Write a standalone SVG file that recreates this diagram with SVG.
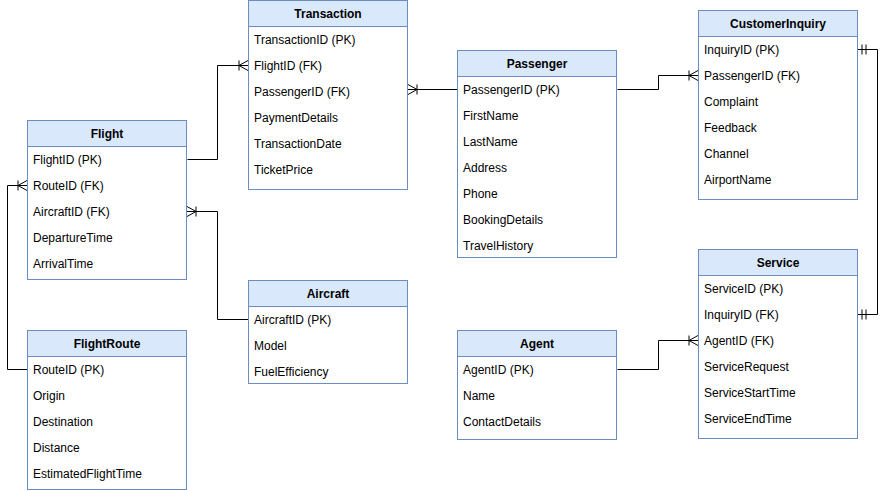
<svg xmlns="http://www.w3.org/2000/svg" width="887" height="491" viewBox="0 0 887 491">
<style>
.body{fill:#ffffff;stroke:#6c8ebf;stroke-width:1}
.head{fill:#dae8fc;stroke:#6c8ebf;stroke-width:1}
.t{font-family:"Liberation Sans",Arial,sans-serif;font-size:12px;fill:#000}
.h{font-family:"Liberation Sans",Arial,sans-serif;font-size:12px;font-weight:bold;fill:#000;text-anchor:middle}
.c{fill:none;stroke:#000;stroke-width:1}
</style>
<defs>
<marker id="many" markerUnits="userSpaceOnUse" viewBox="-12 -8 14 16" refX="0" refY="0" markerWidth="14" markerHeight="16" orient="auto-start-reverse" overflow="visible">
<path d="M-9,-5 L-9,5 M0,-5 L-9,0 L0,5" fill="none" stroke="#000" stroke-width="1"/>
</marker>
<marker id="one" markerUnits="userSpaceOnUse" viewBox="-12 -8 14 16" refX="0" refY="0" markerWidth="14" markerHeight="16" orient="auto-start-reverse" overflow="visible">
<path d="M-4,-5 L-4,5 M-8,-5 L-8,5" fill="none" stroke="#000" stroke-width="1"/>
</marker>
</defs>

<g id="connectors">
<path class="c" d="M187.5,159.5 H217.5 V65.5 H248" marker-end="url(#many)"/>
<path class="c" d="M408,89.5 H457" marker-start="url(#many)"/>
<path class="c" d="M617.5,89.5 H658.5 V75.5 H698" marker-end="url(#many)"/>
<path class="c" d="M858,49.5 H877.5 V314.5 H858" marker-start="url(#one)" marker-end="url(#one)"/>
<path class="c" d="M27,185.5 H7.5 V369.5 H27.5" marker-start="url(#many)"/>
<path class="c" d="M187,211.5 H217.5 V319.5 H248.5" marker-start="url(#many)"/>
<path class="c" d="M617.5,369.5 H658.5 V340.5 H698" marker-end="url(#many)"/>
</g>

<g id="transaction">
<rect class="body" x="248.5" y="0.5" width="159" height="189"/>
<rect class="head" x="248.5" y="0.5" width="159" height="26"/>
<text class="h" x="328" y="18">Transaction</text>
<text class="t" x="254" y="44">TransactionID (PK)</text>
<text class="t" x="254" y="70">FlightID (FK)</text>
<text class="t" x="254" y="96">PassengerID (FK)</text>
<text class="t" x="254" y="122">PaymentDetails</text>
<text class="t" x="254" y="148">TransactionDate</text>
<text class="t" x="254" y="174">TicketPrice</text>
</g>

<g id="flight">
<rect class="body" x="27.5" y="120.5" width="159" height="159"/>
<rect class="head" x="27.5" y="120.5" width="159" height="26"/>
<text class="h" x="107" y="138">Flight</text>
<text class="t" x="33" y="164">FlightID (PK)</text>
<text class="t" x="33" y="190">RouteID (FK)</text>
<text class="t" x="33" y="216">AircraftID (FK)</text>
<text class="t" x="33" y="242">DepartureTime</text>
<text class="t" x="33" y="268">ArrivalTime</text>
</g>

<g id="flightroute">
<rect class="body" x="27.5" y="330.5" width="159" height="159"/>
<rect class="head" x="27.5" y="330.5" width="159" height="26"/>
<text class="h" x="107" y="348">FlightRoute</text>
<text class="t" x="33" y="374">RouteID (PK)</text>
<text class="t" x="33" y="400">Origin</text>
<text class="t" x="33" y="426">Destination</text>
<text class="t" x="33" y="452">Distance</text>
<text class="t" x="33" y="478">EstimatedFlightTime</text>
</g>

<g id="aircraft">
<rect class="body" x="248.5" y="280.5" width="159" height="103"/>
<rect class="head" x="248.5" y="280.5" width="159" height="26"/>
<text class="h" x="328" y="298">Aircraft</text>
<text class="t" x="254" y="324">AircraftID (PK)</text>
<text class="t" x="254" y="350">Model</text>
<text class="t" x="254" y="376">FuelEfficiency</text>
</g>

<g id="passenger">
<rect class="body" x="457.5" y="50.5" width="159" height="207"/>
<rect class="head" x="457.5" y="50.5" width="159" height="26"/>
<text class="h" x="537" y="68">Passenger</text>
<text class="t" x="463" y="94">PassengerID (PK)</text>
<text class="t" x="463" y="120">FirstName</text>
<text class="t" x="463" y="146">LastName</text>
<text class="t" x="463" y="172">Address</text>
<text class="t" x="463" y="198">Phone</text>
<text class="t" x="463" y="224">BookingDetails</text>
<text class="t" x="463" y="250">TravelHistory</text>
</g>

<g id="agent">
<rect class="body" x="457.5" y="330.5" width="159" height="109"/>
<rect class="head" x="457.5" y="330.5" width="159" height="26"/>
<text class="h" x="537" y="348">Agent</text>
<text class="t" x="463" y="374">AgentID (PK)</text>
<text class="t" x="463" y="400">Name</text>
<text class="t" x="463" y="426">ContactDetails</text>
</g>

<g id="customerinquiry">
<rect class="body" x="698.5" y="10.5" width="159" height="189"/>
<rect class="head" x="698.5" y="10.5" width="159" height="26"/>
<text class="h" x="778" y="28">CustomerInquiry</text>
<text class="t" x="704" y="54">InquiryID (PK)</text>
<text class="t" x="704" y="80">PassengerID (FK)</text>
<text class="t" x="704" y="106">Complaint</text>
<text class="t" x="704" y="132">Feedback</text>
<text class="t" x="704" y="158">Channel</text>
<text class="t" x="704" y="184">AirportName</text>
</g>

<g id="service">
<rect class="body" x="698.5" y="249.5" width="159" height="189"/>
<rect class="head" x="698.5" y="249.5" width="159" height="26"/>
<text class="h" x="778" y="267">Service</text>
<text class="t" x="704" y="293">ServiceID (PK)</text>
<text class="t" x="704" y="319">InquiryID (FK)</text>
<text class="t" x="704" y="345">AgentID (FK)</text>
<text class="t" x="704" y="371">ServiceRequest</text>
<text class="t" x="704" y="397">ServiceStartTime</text>
<text class="t" x="704" y="423">ServiceEndTime</text>
</g>
</svg>
